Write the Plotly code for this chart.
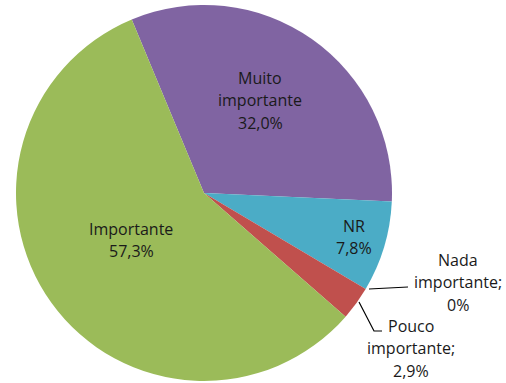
import plotly.graph_objects as go

# Survey answers, clockwise from the top-left edge of the chart
categories = ["Muito importante", "NR", "Nada importante", "Pouco importante", "Importante"]
shares = [32.0, 7.8, 0.0, 2.9, 57.3]
colors = ["#8064A2", "#4BACC6", "#F79646", "#C0504D", "#9BBB59"]

W, H = 506, 383
FONT = "Open Sans"
LINE_GAP = 22.5


def pct(v):
    if v == 0:
        return "0%"
    return f"{v:.1f}".replace(".", ",") + "%"


# Label lines: inside slices show the category then the value,
# the small outside slices show "category;" above the value
label_lines = {
    "Muito importante": ["Muito", "importante"],
    "NR": ["NR"],
    "Importante": ["Importante"],
    "Nada importante": ["Nada", "importante;"],
    "Pouco importante": ["Pouco", "importante;"],
}

# Label block centres (pixels from top-left)
label_pos = {
    "Muito importante": (260, 100),
    "NR": (354, 237),
    "Importante": (131, 240),
    "Nada importante": (458, 282),
    "Pouco importante": (411, 348),
}

fig = go.Figure()

# Pie circle: centre (204, 193), radius 188
cx, cy, r = 204, 193, 188
fig.add_trace(go.Pie(
    labels=categories,
    values=shares,
    sort=False,
    direction="clockwise",
    rotation=-22.6,
    marker=dict(colors=colors, line=dict(width=0)),
    textinfo="none",
    hoverinfo="label+percent",
    showlegend=False,
    domain=dict(x=[(cx - r) / W, (cx + r) / W], y=[(H - cy - r) / H, (H - cy + r) / H]),
))

for cat, v in zip(categories, shares):
    x, y = label_pos[cat]
    lines = label_lines[cat] + [pct(v)]
    top = y - LINE_GAP * (len(lines) - 1) / 2
    for i, line in enumerate(lines):
        fig.add_annotation(
            x=x, y=top + i * LINE_GAP, xref="x", yref="y", text=line, showarrow=False,
            xanchor="center", yanchor="middle",
            font=dict(family=FONT, size=16, color="#1a1a1a"),
        )

# Leader lines for the small outside labels
leaders = [
    "M 369 289 L 408 287",
    "M 359 302 L 374 331 L 382 331",
]
for p in leaders:
    fig.add_shape(type="path", path=p, xref="x", yref="y",
                  line=dict(color="#000000", width=1.2))

fig.update_layout(
    width=W, height=H,
    margin=dict(l=0, r=0, t=0, b=0),
    paper_bgcolor="white", plot_bgcolor="rgba(0,0,0,0)",
    xaxis=dict(range=[0, W], visible=False, fixedrange=True),
    yaxis=dict(range=[H, 0], visible=False, fixedrange=True),
)

fig.write_html("out.html")
